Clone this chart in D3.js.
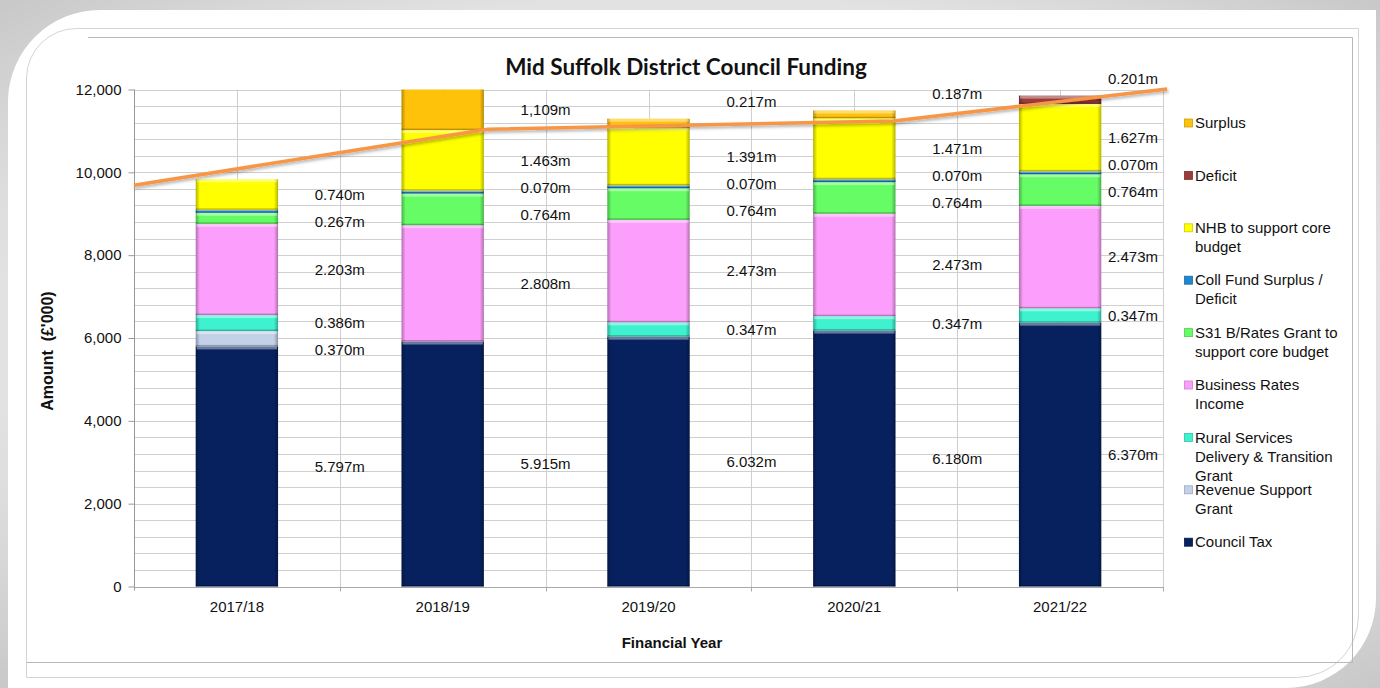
<!DOCTYPE html>
<html>
<head>
<meta charset="utf-8">
<script src="https://cdn.jsdelivr.net/npm/d3@7"></script>
<style>
  html, body { margin: 0; padding: 0; background: #d6d6d6; }
  svg { display: block; font-family: "Liberation Sans", Arial, sans-serif; }
</style>
</head>
<body>
<svg id="chart" width="1380" height="688"></svg>
<script>
const years = ["2017/18", "2018/19", "2019/20", "2020/21", "2021/22"];

// £'000, stacked bottom to top
const councilTax = [5797, 5915, 6032, 6180, 6370];
const revenueSupport = [370, 0, 0, 0, 0];
const ruralServices = [386, 0, 347, 347, 347];
const businessRates = [2203, 2808, 2473, 2473, 2473];
const s31Grant = [267, 764, 764, 764, 764];
const collFund = [70, 70, 70, 70, 70];
const nhb = [740, 1463, 1391, 1471, 1627];
const deficit = [0, 0, 0, 0, 201];
const surplus = [0, 1109, 217, 187, 0];

// orange line drawn over the bars (position along category axis, value)
const trendPos = [0, 1.72, 3.69, 5.02];
const trendVal = [9690, 11040, 11240, 12010];

const yTicks = [0, 2000, 4000, 6000, 8000, 10000, 12000];

// label quirks copied from the original
const labelFix = { "Surplus|2018/19": "1,109m" };
const labelSkip = ["Coll Fund Surplus / Deficit|2017/18"];

const series = [
  { key: "Council Tax", values: councilTax, color: "#07215f", legend: ["Council Tax"] },
  { key: "Revenue Support Grant", values: revenueSupport, color: "#c3d1e8", legend: ["Revenue Support", "Grant"] },
  { key: "Rural Services Delivery & Transition Grant", values: ruralServices, color: "#3ef2cf", legend: ["Rural Services", "Delivery & Transition", "Grant"] },
  { key: "Business Rates Income", values: businessRates, color: "#fc9ffc", legend: ["Business Rates", "Income"] },
  { key: "S31 B/Rates Grant to support core budget", values: s31Grant, color: "#66fc66", legend: ["S31 B/Rates Grant to", "support core budget"] },
  { key: "Coll Fund Surplus / Deficit", values: collFund, color: "#1f86d0", legend: ["Coll Fund Surplus /", "Deficit"] },
  { key: "NHB to support core budget", values: nhb, color: "#ffff00", legend: ["NHB to support core", "budget"] },
  { key: "Deficit", values: deficit, color: "#9b3c3a", legend: ["Deficit"] },
  { key: "Surplus", values: surplus, color: "#ffc20a", legend: ["Surplus"] }
];

const svg = d3.select("#chart");
const plot = { left: 134, right: 1163, top: 89.5, bottom: 586.5 };

const x = d3.scaleBand().domain(years).range([plot.left, plot.right])
  .paddingInner(0.6).paddingOuter(0.3);
const xPos = d3.scaleLinear().domain([0, years.length]).range([plot.left, plot.right]);
const y = d3.scaleLinear().domain([0, 12000]).range([plot.bottom, plot.top]);

const defs = svg.append("defs");

const bg = defs.append("radialGradient").attr("id", "bg").attr("cx", "50%").attr("cy", "50%").attr("r", "72%");
bg.append("stop").attr("offset", "70%").attr("stop-color", "#e2e2e2");
bg.append("stop").attr("offset", "100%").attr("stop-color", "#c6c6c6");

const side = defs.append("linearGradient").attr("id", "side").attr("x1", 0).attr("x2", 1).attr("y1", 0).attr("y2", 0);
[[0, 0.3], [0.05, 0], [0.95, 0], [1, 0.3]].forEach(([o, a]) =>
  side.append("stop").attr("offset", o).attr("stop-color", "#000").attr("stop-opacity", a));

const shadow = defs.append("filter").attr("id", "shadow").attr("x", "-10%").attr("y", "-50%").attr("width", "120%").attr("height", "200%");
shadow.append("feDropShadow").attr("dx", 1).attr("dy", 2).attr("stdDeviation", 1.5)
  .attr("flood-color", "#000").attr("flood-opacity", 0.3);

defs.append("clipPath").attr("id", "plotClip").append("rect")
  .attr("x", plot.left - 2).attr("y", plot.top).attr("width", plot.right - plot.left + 4)
  .attr("height", plot.bottom - plot.top + 1);

// backdrop and card
svg.append("rect").attr("width", 1380).attr("height", 688).attr("fill", "url(#bg)");
svg.append("path")
  .attr("d", "M8,100 A92,92 0 0 1 100,10 L1376,10 L1376,598 A90,90 0 0 1 1286,688 L8,688 Z")
  .attr("fill", "#fff");
svg.append("path")
  .attr("d", "M26.5,78 A50,50 0 0 1 76.5,28.5 L1358.5,28.5 L1358.5,615 A62,62 0 0 1 1296.5,677.5 L26.5,677.5 Z")
  .attr("fill", "none").attr("stroke", "#d4d4d4");
svg.append("path")
  .attr("d", "M88,37.5 L1352.5,37.5 L1352.5,662.5 L26.5,662.5")
  .attr("fill", "none").attr("stroke", "#b8b8b8");

// grid
const grid = svg.append("g").attr("stroke", "#cfcfcf").attr("stroke-width", 1);
grid.selectAll("line.h").data(d3.range(400, 12001, 400)).join("line")
  .attr("x1", plot.left).attr("x2", plot.right)
  .attr("y1", d => Math.round(y(d)) + 0.5).attr("y2", d => Math.round(y(d)) + 0.5);
grid.selectAll("line.v").data(d3.range(1, years.length * 2 + 1)).join("line")
  .attr("x1", d => Math.round(xPos(d / 2)) + 0.5).attr("x2", d => Math.round(xPos(d / 2)) + 0.5)
  .attr("y1", plot.top).attr("y2", plot.bottom);

// stacked bars
const table = years.map((yr, i) => {
  const row = { year: yr };
  series.forEach(s => { row[s.key] = s.values[i]; });
  return row;
});
const stacked = d3.stack().keys(series.map(s => s.key))(table);

const bars = svg.append("g").attr("clip-path", "url(#plotClip)");
stacked.forEach((layer, li) => {
  const g = bars.append("g");
  const segs = g.selectAll("g").data(layer.filter(d => d[1] - d[0] > 0)).join("g");
  const top = d => y(d[1]);
  const hgt = d => y(d[0]) - y(d[1]);
  segs.append("rect")
    .attr("x", d => x(d.data.year)).attr("y", top)
    .attr("width", x.bandwidth()).attr("height", hgt)
    .attr("fill", series[li].color);
  segs.append("rect")
    .attr("x", d => x(d.data.year)).attr("y", top)
    .attr("width", x.bandwidth()).attr("height", hgt)
    .attr("fill", "url(#side)");
  segs.append("rect")
    .attr("x", d => x(d.data.year) + 1).attr("y", top)
    .attr("width", x.bandwidth() - 2).attr("height", d => Math.min(3, hgt(d) / 2))
    .attr("fill", "#fff").attr("opacity", 0.4);
  segs.append("rect")
    .attr("x", d => x(d.data.year)).attr("y", d => y(d[0]) - Math.min(1.5, hgt(d)))
    .attr("width", x.bandwidth()).attr("height", d => Math.min(1.5, hgt(d)))
    .attr("fill", "#000").attr("opacity", 0.25);
});

// axes
const yAxis = d3.axisLeft(y).tickValues(yTicks).tickSize(6).tickSizeOuter(0)
  .tickPadding(7).tickFormat(d3.format(","));
const yg = svg.append("g").attr("transform", `translate(${plot.left + 0.5},0)`).call(yAxis);
yg.select(".domain").attr("stroke", "#999").attr("d", `M0,${plot.top}V${plot.bottom + 4}`);
yg.selectAll(".tick line").attr("stroke", "#999");
yg.selectAll("text").attr("font-size", 15).attr("fill", "#111")
  .attr("font-family", '"Liberation Sans", Arial, sans-serif');

svg.append("line").attr("x1", plot.left).attr("x2", plot.right)
  .attr("y1", Math.round(plot.bottom) + 0.5).attr("y2", Math.round(plot.bottom) + 0.5)
  .attr("stroke", "#a8a8a8");
svg.append("g").selectAll("line").data(d3.range(1, years.length + 1)).join("line")
  .attr("x1", d => Math.round(xPos(d)) + 0.5).attr("x2", d => Math.round(xPos(d)) + 0.5)
  .attr("y1", plot.bottom).attr("y2", plot.bottom + 5).attr("stroke", "#a8a8a8");

const xAxis = d3.axisBottom(x).tickSize(0).tickPadding(15);
const xg = svg.append("g").attr("transform", `translate(0,${plot.bottom})`).call(xAxis);
xg.select(".domain").remove();
xg.selectAll("text").attr("font-size", 15).attr("fill", "#111")
  .attr("font-family", '"Liberation Sans", Arial, sans-serif');

// trend line
const line = d3.line().x(d => xPos(d[0])).y(d => y(d[1]));
svg.append("path")
  .datum(d3.zip(trendPos, trendVal))
  .attr("d", line)
  .attr("fill", "none").attr("stroke", "#f79646").attr("stroke-width", 3.5)
  .attr("stroke-linejoin", "round").attr("filter", "url(#shadow)");

// data labels, at segment middles, nudged apart like the original
const fmt = v => d3.format(".3f")(v / 1000) + "m";
const labels = svg.append("g").attr("font-size", 15).attr("fill", "#111").attr("text-anchor", "middle");
years.forEach((yr, i) => {
  const items = [];
  stacked.forEach((layer, li) => {
    const d = layer[i];
    const v = d[1] - d[0];
    const id = series[li].key + "|" + yr;
    if (v <= 0 || labelSkip.includes(id)) return;
    const y0 = y(d[0]), y1 = Math.max(y(d[1]), plot.top);
    let ly = (y0 + y1) / 2;
    if (y0 - y1 < 14) ly = y1 - 17;
    items.push({ text: labelFix[id] || fmt(v), y: ly });
  });
  items.sort((a, b) => a.y - b.y);
  for (let k = 1; k < items.length; k++) {
    if (items[k].y < items[k - 1].y + 27) items[k].y = items[k - 1].y + 27;
  }
  const lx = Math.min(x(yr) + x.bandwidth() / 2 + x.step() / 2, plot.right - 30);
  labels.selectAll(null).data(items).join("text")
    .attr("x", lx).attr("y", d => d.y).attr("dy", "0.35em")
    .text(d => d.text);
});

// legend
const legend = svg.append("g").attr("transform", "translate(1184,0)");
series.slice().reverse().forEach((s, i) => {
  const cy = 123 + i * 52.4;
  legend.append("rect").attr("x", 0.5).attr("y", cy - 4).attr("width", 8).attr("height", 8)
    .attr("fill", s.color).attr("stroke", d3.color(s.color).darker(0.6)).attr("stroke-width", 0.8);
  legend.append("text").attr("x", 11).attr("font-size", 15).attr("fill", "#111")
    .selectAll("tspan").data(s.legend).join("tspan")
    .attr("x", 11).attr("y", (d, k) => cy + k * 19).attr("dy", "0.35em")
    .text(d => d);
});

// titles
svg.append("text")
  .attr("x", 686).attr("y", 75)
  .attr("text-anchor", "middle")
  .attr("font-family", "Lato, 'Open Sans', sans-serif")
  .attr("font-weight", "bold").attr("font-size", 22.5).attr("fill", "#111")
  .text("Mid Suffolk District Council Funding");

svg.append("text")
  .attr("x", 672).attr("y", 643).attr("dy", "0.35em")
  .attr("text-anchor", "middle").attr("font-weight", "bold").attr("font-size", 15).attr("fill", "#111")
  .text("Financial Year");

svg.append("text")
  .attr("transform", "translate(47,351) rotate(-90)")
  .attr("dy", "0.35em").attr("text-anchor", "middle")
  .attr("font-weight", "bold").attr("font-size", 16).attr("fill", "#111")
  .style("white-space", "pre")
  .text("Amount  (£'000)");
</script>
</body>
</html>
